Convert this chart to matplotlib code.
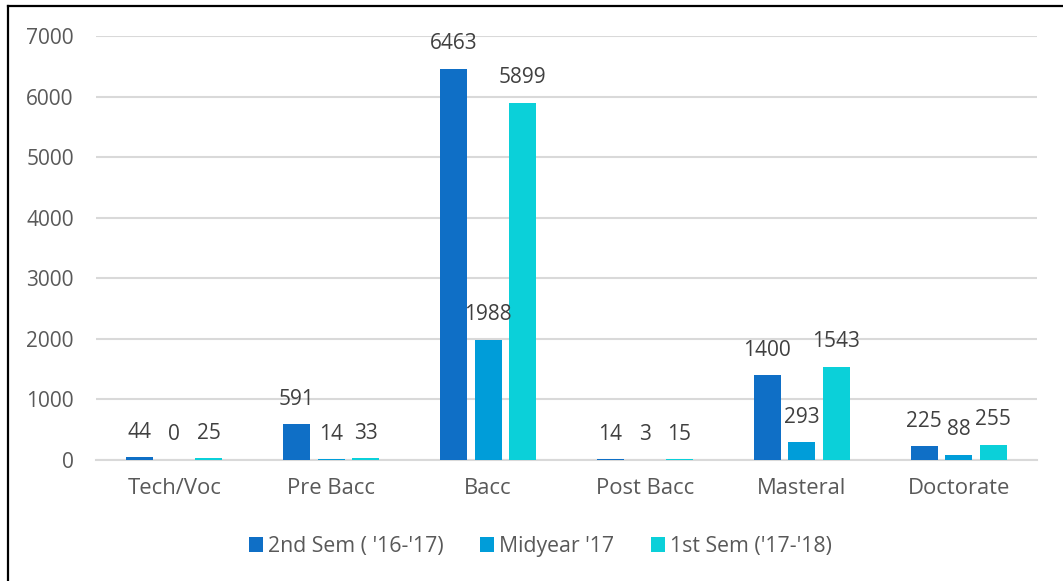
import matplotlib
matplotlib.use("Agg")
import matplotlib.pyplot as plt
import numpy as np
from matplotlib.lines import Line2D

categories = ["Tech/Voc", "Pre Bacc", "Bacc", "Post Bacc", "Masteral", "Doctorate"]
series_names = ["2nd Sem ( '16-'17)", "Midyear '17", "1st Sem ('17-'18)"]
sem2_16_17 = [44, 591, 6463, 14, 1400, 225]
midyear_17 = [0, 14, 1988, 3, 293, 88]
sem1_17_18 = [25, 33, 5899, 15, 1543, 255]
yticks = [0, 1000, 2000, 3000, 4000, 5000, 6000, 7000]

colors = ["#0F6FC6", "#009DD9", "#0BD0D9"]
plt.rcParams['font.family'] = ['Open Sans', 'DejaVu Sans']

W, H = 1063, 581
fig = plt.figure(figsize=(W/100, H/100), dpi=100)
ax = fig.add_axes([96/W, 1-460/H, (1037-96)/W, (460-36)/H])

x = np.arange(len(categories))
width = 0.172
step = 0.22
all_series = [sem2_16_17, midyear_17, sem1_17_18]
for i, (vals, name, c) in enumerate(zip(all_series, series_names, colors)):
    pos = x + (i-1)*step
    ax.bar(pos, vals, width, color=c, label=name, zorder=3)
    for p, v in zip(pos, vals):
        ax.annotate(str(v), (p, v), xytext=(0, 25), textcoords='offset pixels',
                    ha='center', va='center', fontsize=15, color='#404040', zorder=4)

ax.set_xlim(-0.5, len(categories)-0.5)
ax.set_ylim(0, 7000)
ax.set_yticks(yticks)
ax.set_yticklabels([str(t) for t in yticks])
ax.set_xticks(x)
ax.set_xticklabels(categories)
ax.tick_params(axis='both', length=0, labelcolor='#595959')
ax.tick_params(axis='y', pad=16, labelsize=15)
ax.tick_params(axis='x', pad=13, labelsize=15.8)
ax.yaxis.grid(True, color='#D9D9D9', linewidth=1.5, zorder=0)
for s in ['top', 'right', 'left']:
    ax.spines[s].set_visible(False)
ax.spines['bottom'].set_color('#D9D9D9')
ax.spines['bottom'].set_linewidth(1.5)

fig.legend(loc='center', bbox_to_anchor=(540.5/W, 1-546.5/H), ncol=3, frameon=False,
           handlelength=0.66, handleheight=0.66, handletextpad=0.24, columnspacing=1.7,
           fontsize=15.3, labelcolor='#595959')

fig.add_artist(Line2D([7.5/W, 7.5/W], [0, 1-6/H], color='black', linewidth=1.6, transform=fig.transFigure))
fig.add_artist(Line2D([7.5/W, 1], [1-6/H, 1-6/H], color='black', linewidth=1.6, transform=fig.transFigure))

fig.savefig("out.png", dpi=100)
